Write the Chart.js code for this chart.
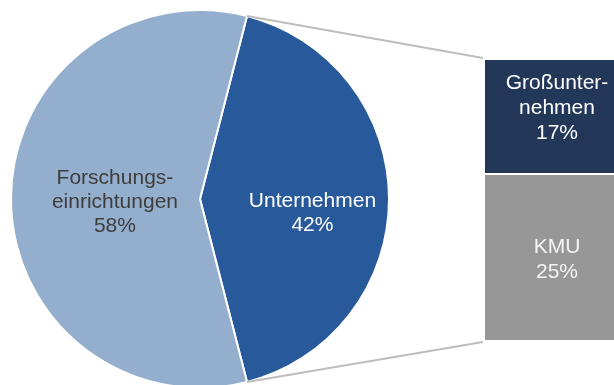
<!DOCTYPE html>
<html>
<head>
<meta charset="utf-8">
<script src="https://cdn.jsdelivr.net/npm/chart.js@4"></script>
<style>
  html, body { margin: 0; padding: 0; background: #fff; overflow: hidden; }
  #wrap { position: relative; width: 614px; height: 385px; overflow: hidden; }
  #pie { position: absolute; left: 0; top: 0; }
  #bar { position: absolute; left: 485px; top: 60px; }
</style>
</head>
<body>
<div id="wrap">
  <canvas id="pie" width="614" height="400"></canvas>
  <canvas id="bar" width="144" height="280"></canvas>
</div>
<script>
// ===== DATA =====
const pieLabels = [['Unternehmen'], ['Forschungs-', 'einrichtungen']];
const pieValues = [42, 58];
const pieColors = ['#285a9b', '#94afcd'];
const pieTextColors = ['#ffffff', '#3d3d3d'];

// Unternehmen split into company size (bottom to top)
const splitLabels = [['KMU'], ['Großunter-', 'nehmen']];
const splitValues = [25, 17];
const splitColors = ['#979797', '#233858'];
const splitTextColors = ['#f4f4f4', '#ffffff'];

const FONT = '21px "Liberation Sans", Arial, sans-serif';

// ===== TEXT HELPER =====
function drawBlock(ctx, lines, x, y, color, lineH) {
  ctx.save();
  ctx.font = FONT;
  ctx.fillStyle = color;
  ctx.textAlign = 'center';
  ctx.textBaseline = 'middle';
  const top = y - (lines.length - 1) * lineH / 2;
  lines.forEach((t, i) => ctx.fillText(t, x, top + i * lineH));
  ctx.restore();
}

// ===== BAR (split of Unternehmen) =====
const barLabelPlugin = {
  id: 'barLabels',
  afterDatasetsDraw(chart, args, opts) {
    chart.data.datasets.forEach((ds, i) => {
      const bar = chart.getDatasetMeta(i).data[0];
      const p = bar.getProps(['x', 'y', 'base']);
      const lines = splitLabels[i].concat(splitValues[i] + '%');
      drawBlock(chart.ctx, lines, p.x, (p.y + p.base) / 2 + opts.dy[i], splitTextColors[i], 25);
    });
  }
};

const splitTotal = splitValues.reduce((a, b) => a + b, 0);

const barChart = new Chart(document.getElementById('bar'), {
  type: 'bar',
  data: {
    labels: [''],
    datasets: splitValues.map((v, i) => ({
      label: splitLabels[i].join(''),
      data: [v],
      backgroundColor: splitColors[i],
      borderColor: '#ffffff',
      borderWidth: i === 0 ? { top: 2, right: 0, bottom: 0, left: 0 } : 0,
      barPercentage: 1,
      categoryPercentage: 1
    }))
  },
  options: {
    responsive: false,
    animation: false,
    layout: { padding: 0 },
    scales: {
      x: { display: false, stacked: true },
      y: { display: false, stacked: true, min: 0, max: splitTotal }
    },
    plugins: {
      legend: { display: false },
      tooltip: { enabled: false },
      barLabels: { dy: [3, -8] }
    }
  },
  plugins: [barLabelPlugin]
});

// ===== PIE =====
const pieTotal = pieValues.reduce((a, b) => a + b, 0);

const pieLabelPlugin = {
  id: 'pieLabels',
  afterDatasetsDraw(chart, args, opts) {
    chart.getDatasetMeta(0).data.forEach((arc, i) => {
      const p = arc.getProps(['x', 'y', 'startAngle', 'endAngle', 'outerRadius']);
      const mid = (p.startAngle + p.endAngle) / 2;
      const r = p.outerRadius * opts.radius[i];
      const lines = pieLabels[i].concat(pieValues[i] + '%');
      drawBlock(chart.ctx, lines, p.x + Math.cos(mid) * r, p.y + Math.sin(mid) * r + opts.dy[i], pieTextColors[i], 24);
    });
  }
};

// lines from the Unternehmen slice edges to the split bar
const connectorPlugin = {
  id: 'connectors',
  afterDraw(chart) {
    const arc = chart.getDatasetMeta(0).data[0];
    const a = arc.getProps(['x', 'y', 'startAngle', 'endAngle', 'outerRadius']);
    const canvas = barChart.canvas;
    const offX = canvas.offsetLeft, offY = canvas.offsetTop;
    const top = barChart.getDatasetMeta(1).data[0].getProps(['x', 'y', 'width']);
    const bottom = barChart.getDatasetMeta(0).data[0].getProps(['x', 'base', 'width']);
    const ctx = chart.ctx;
    ctx.save();
    ctx.strokeStyle = '#bdbdbd';
    ctx.lineWidth = 2;
    ctx.beginPath();
    ctx.moveTo(a.x + Math.cos(a.startAngle) * a.outerRadius, a.y + Math.sin(a.startAngle) * a.outerRadius);
    ctx.lineTo(offX + top.x - top.width / 2 - 2, offY + top.y - 2);
    ctx.moveTo(a.x + Math.cos(a.endAngle) * a.outerRadius, a.y + Math.sin(a.endAngle) * a.outerRadius);
    ctx.lineTo(offX + bottom.x - bottom.width / 2 - 2, offY + bottom.base + 2);
    ctx.stroke();
    ctx.restore();
  }
};

new Chart(document.getElementById('pie'), {
  type: 'pie',
  data: {
    labels: pieLabels,
    datasets: [{
      data: pieValues,
      backgroundColor: pieColors,
      borderColor: '#ffffff',
      borderWidth: 2
    }]
  },
  options: {
    responsive: false,
    animation: false,
    // Unternehmen slice centred on the right-hand side
    rotation: 90 - pieValues[0] / pieTotal * 180,
    layout: { padding: { left: 10, right: 224, top: 9, bottom: 11 } },
    plugins: {
      legend: { display: false },
      tooltip: { enabled: false },
      pieLabels: { radius: [0.595, 0.45], dy: [14, 3] }
    }
  },
  plugins: [pieLabelPlugin, connectorPlugin]
});
</script>
</body>
</html>
